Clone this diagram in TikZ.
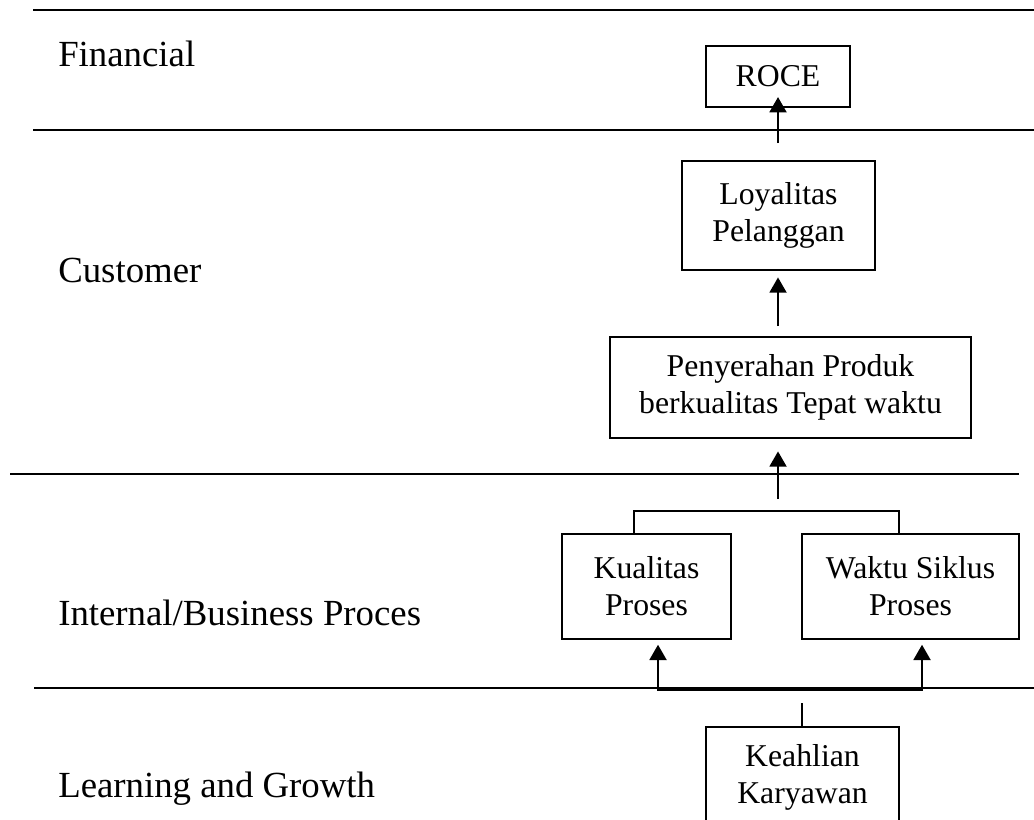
\documentclass[tikz,border=0pt]{standalone}
\usepackage{fontspec}
\setmainfont{Liberation Serif}
\usetikzlibrary{arrows.meta}
\begin{document}
\begin{tikzpicture}[x=0.75pt,y=-0.75pt,
  sepline/.style={line width=1.5pt},
  box/.style={draw,line width=1pt,align=center,inner sep=0pt,font=\fontsize{23.8}{27.75}\selectfont},
  lbl/.style={anchor=base west,inner sep=0pt,font=\fontsize{27.6}{33}\selectfont},
  tip/.tip={Triangle[width=12.5pt,length=11.5pt]},
  arr/.style={line width=2.2pt,-tip},
  thinline/.style={line width=1pt}]
\useasboundingbox (0,0) rectangle (1034,819);
\clip (0,0) rectangle (1034,819);
% separators
\draw[sepline] (33,10) -- (1034,10);
\draw[sepline] (33,130) -- (1034,130);
\draw[sepline] (10,474) -- (1019,474);
\draw[sepline] (34,688) -- (1034,688);
% labels
\node[lbl] (lf) at (58,66) {Financial};
\node[lbl] (lc) at (58,282) {Customer};
\node[lbl] (li) at (58,625) {Internal/Business Proces};
\node[lbl] (ll) at (58,797) {Learning and Growth};
% boxes
\node[box,minimum width=108pt,minimum height=45.75pt] (roce) at (778,76.5) {ROCE};
\node[box,minimum width=144.75pt,minimum height=81.75pt] (loy) at (778.5,215.5) {Loyalitas\\Pelanggan};
\node[box,minimum width=270.75pt,minimum height=75.75pt] (pen) at (790.5,387.5) {Penyerahan Produk\\berkualitas Tepat waktu};
\node[box,minimum width=126.75pt,minimum height=78.75pt] (kual) at (646.5,586.5) {Kualitas\\Proses};
\node[box,minimum width=162.75pt,minimum height=78.75pt] (wak) at (910.5,586.5) {Waktu Siklus\\Proses};
\node[box,minimum width=144.75pt,minimum height=75.75pt] (keah) at (802.5,777.5) {Keahlian\\Karyawan};
% arrows
\coordinate (a1) at (778,143);
\coordinate (a2) at (778,326);
\coordinate (a3) at (778,499);
\draw[arr,shorten >=-8pt] (a1) -- (a1 |- roce.south);
\draw[arr,shorten >=5pt] (a2) -- (a2 |- loy.south);
\draw[arr,shorten >=9.5pt] (a3) -- (a3 |- pen.south);
% bracket
\coordinate (bl) at (634,511);
\coordinate (br) at (899,511);
\draw[thinline] (bl |- kual.north) -- (bl) -- (br) -- (br |- wak.north);
% bottom connector
\coordinate (cl) at (658,690);
\coordinate (cr) at (922,690);
\draw[line width=2.2pt,tip-tip,shorten <=3.75pt,shorten >=3.75pt] (cl |- kual.south) -- (cl) -- (cr) -- (cr |- wak.south);
% stub from Keahlian
\coordinate (ks) at (802,703);
\draw[thinline] (ks) -- (ks |- keah.north);
\end{tikzpicture}
\end{document}
